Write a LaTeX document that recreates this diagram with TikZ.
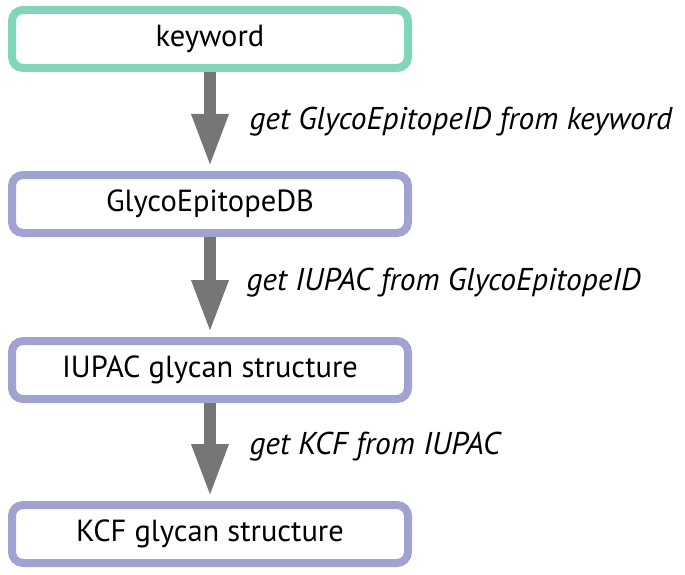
\documentclass[tikz,border=0pt]{standalone}
\usepackage{fontspec}
\setmainfont{PT Sans}
\usepackage{xcolor}
\usetikzlibrary{arrows.meta, positioning}
\definecolor{stepgreen}{RGB}{128,214,182}
\definecolor{steppurple}{RGB}{162,162,210}
\definecolor{flowgray}{RGB}{118,118,118}
\begin{document}
\begin{tikzpicture}[x=1pt, y=-1pt,
  stepbox/.style={draw=steppurple, line width=8pt, rounded corners=11pt, fill=white,
    minimum width=396pt, minimum height=58pt, inner sep=0pt, font=\fontsize{30.5}{34}\selectfont},
  flow/.style={draw=flowgray, line width=12pt, -{Triangle[width=34pt, length=53pt]}, shorten >=4pt},
  note/.style={anchor=west, font=\fontsize{31.5}{35}\selectfont\itshape}]
\useasboundingbox (0,0) rectangle (685,575);
\node[stepbox, draw=stepgreen] (kw) at (210,39) {keyword};
\node[stepbox] (db) at (210,204) {GlycoEpitopeDB};
\node[stepbox] (iupac) at (210,370) {IUPAC glycan structure};
\node[stepbox] (kcf) at (210,534) {KCF glycan structure};
\draw[flow] (kw) -- (db);
\draw[flow] (db) -- (iupac);
\draw[flow] (iupac) -- (kcf);
\node[note] (n1) at (246,122) {get GlycoEpitopeID from keyword};
\node[note] (n2) at (243,283) {get IUPAC from GlycoEpitopeID};
\node[note] (n3) at (246,447) {get KCF from IUPAC};
\end{tikzpicture}
\end{document}
